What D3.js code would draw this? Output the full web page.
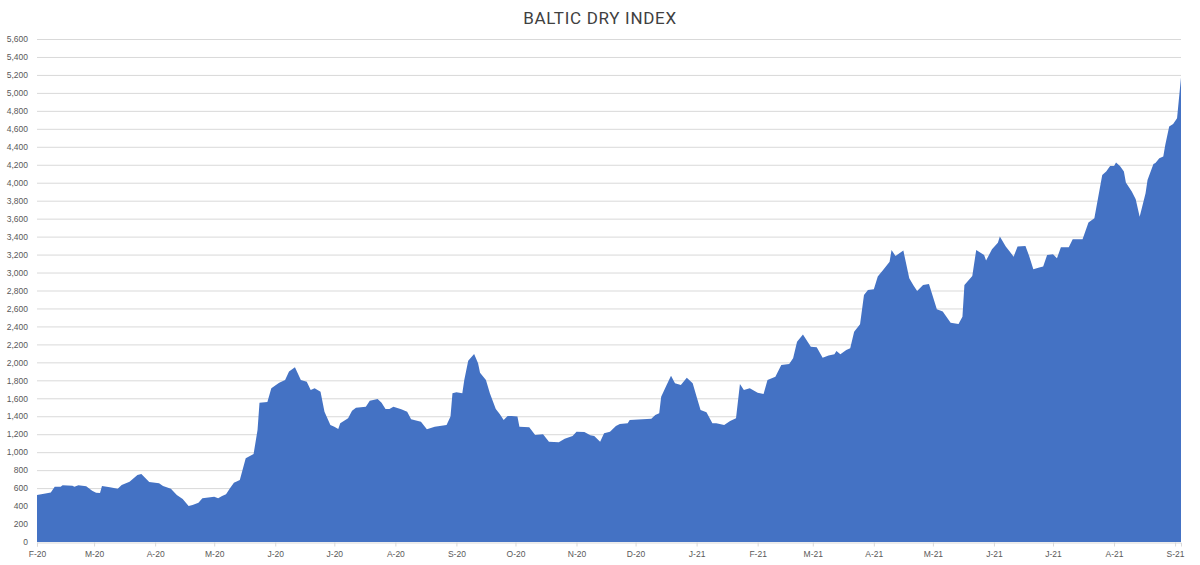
<!DOCTYPE html>
<html>
<head>
<meta charset="utf-8">
<script src="https://cdn.jsdelivr.net/npm/d3@7"></script>
<style>
  body { margin: 0; background: #fff; }
  svg { display: block; font-family: Roboto, "DejaVu Sans", sans-serif; }
</style>
</head>
<body>
<div id="chart"></div>
<script>
// BDI readings (date, index)
const dates = [
  "2020-02-01","2020-02-06","2020-02-08","2020-02-10","2020-02-13","2020-02-14","2020-02-19","2020-02-20",
  "2020-02-22","2020-02-26","2020-02-29","2020-03-02","2020-03-04","2020-03-05","2020-03-09","2020-03-13",
  "2020-03-15","2020-03-19","2020-03-23","2020-03-25","2020-03-29","2020-04-03","2020-04-05","2020-04-09",
  "2020-04-12","2020-04-15","2020-04-18","2020-04-20","2020-04-23","2020-04-25","2020-05-01","2020-05-03",
  "2020-05-05","2020-05-07","2020-05-09","2020-05-11","2020-05-14","2020-05-17","2020-05-21","2020-05-23",
  "2020-05-24","2020-05-28","2020-05-30","2020-06-03","2020-06-06","2020-06-08","2020-06-11","2020-06-14",
  "2020-06-17","2020-06-19","2020-06-21","2020-06-24","2020-06-26","2020-06-29","2020-07-01","2020-07-03",
  "2020-07-04","2020-07-08","2020-07-10","2020-07-12","2020-07-17","2020-07-19","2020-07-23","2020-07-25",
  "2020-07-27","2020-07-29","2020-07-31","2020-08-04","2020-08-07","2020-08-09","2020-08-14","2020-08-17",
  "2020-08-21","2020-08-27","2020-08-29","2020-08-30","2020-09-01","2020-09-04","2020-09-05","2020-09-07",
  "2020-09-10","2020-09-12","2020-09-13","2020-09-16","2020-09-18","2020-09-21","2020-09-23","2020-09-25",
  "2020-09-27","2020-09-29","2020-10-02","2020-10-03","2020-10-08","2020-10-11","2020-10-15","2020-10-18",
  "2020-10-23","2020-10-26","2020-10-30","2020-11-01","2020-11-05","2020-11-08","2020-11-10","2020-11-13",
  "2020-11-15","2020-11-18","2020-11-21","2020-11-23","2020-11-27","2020-11-28","2020-12-09","2020-12-11",
  "2020-12-13","2020-12-14","2020-12-17","2020-12-19","2020-12-21","2020-12-24","2020-12-27","2020-12-30",
  "2021-01-01","2021-01-03","2021-01-06","2021-01-09","2021-01-11","2021-01-15","2021-01-18","2021-01-21",
  "2021-01-23","2021-01-25","2021-01-28","2021-02-01","2021-02-04","2021-02-06","2021-02-10","2021-02-13",
  "2021-02-17","2021-02-19","2021-02-21","2021-02-24","2021-02-28","2021-03-03","2021-03-06","2021-03-09",
  "2021-03-12","2021-03-13","2021-03-15","2021-03-18","2021-03-20","2021-03-22","2021-03-25","2021-03-27",
  "2021-03-29","2021-04-01","2021-04-03","2021-04-06","2021-04-09","2021-04-10","2021-04-12","2021-04-16",
  "2021-04-19","2021-04-21","2021-04-23","2021-04-26","2021-04-29","2021-05-03","2021-05-06","2021-05-10",
  "2021-05-14","2021-05-16","2021-05-17","2021-05-21","2021-05-23","2021-05-27","2021-05-28","2021-05-31",
  "2021-06-03","2021-06-04","2021-06-07","2021-06-09","2021-06-11","2021-06-13","2021-06-17","2021-06-19",
  "2021-06-21","2021-06-24","2021-06-26","2021-06-28","2021-07-01","2021-07-03","2021-07-05","2021-07-09",
  "2021-07-11","2021-07-16","2021-07-19","2021-07-22","2021-07-26","2021-07-28","2021-07-30","2021-08-01",
  "2021-08-02","2021-08-04","2021-08-06","2021-08-07","2021-08-10","2021-08-12","2021-08-14","2021-08-17",
  "2021-08-18","2021-08-21","2021-08-22","2021-08-24","2021-08-26","2021-08-27","2021-08-29","2021-08-31",
  "2021-09-02","2021-09-04"
];
const values = [
  523,542,550,616,616,631,626,616,
  631,620,571,549,545,624,609,594,
  635,672,746,757,668,653,624,594,
  523,479,401,412,438,486,505,486,
  512,531,598,660,690,932,980,1247,
  1551,1559,1711,1774,1804,1897,1945,1804,
  1785,1693,1711,1674,1451,1303,1284,1258,
  1321,1377,1462,1496,1507,1573,1592,1551,
  1481,1481,1507,1477,1451,1366,1340,1255,
  1284,1303,1396,1656,1667,1656,1804,2019,
  2094,1990,1885,1804,1656,1481,1425,1359,
  1403,1403,1396,1284,1277,1192,1199,1117,
  1110,1150,1180,1228,1225,1188,1180,1117,
  1210,1228,1292,1314,1321,1359,1373,1414,
  1433,1618,1759,1852,1767,1748,1830,1767,
  1618,1470,1444,1321,1321,1303,1347,1377,
  1759,1693,1711,1663,1648,1804,1841,1971,
  1982,2045,2230,2310,2175,2168,2052,2075,
  2090,2127,2090,2138,2157,2342,2424,2751,
  2806,2814,2955,3036,3121,3252,3185,3244,
  2937,2862,2795,2862,2873,2591,2565,2442,
  2428,2509,2862,2962,3252,3196,3133,3259,
  3333,3400,3289,3233,3177,3289,3296,3177,
  3036,3055,3066,3196,3204,3159,3281,3281,
  3370,3370,3556,3605,4087,4124,4187,4187,
  4224,4187,4124,4001,3901,3816,3622,3883,
  4031,4209,4220,4273,4291,4421,4625,4655,
  4718,5170
];
const yTicks = d3.range(0, 5601, 200);
const monthLetters = ["J","F","M","A","M","J","J","A","S","O","N","D"];
const title = "BALTIC DRY INDEX";

const parse = d3.timeParse("%Y-%m-%d");
const data = dates.map((d, i) => ({ date: parse(d), value: values[i] }));

const W = 1200, H = 565;
const margin = { top: 39, right: 19, bottom: 23, left: 37 };

const svg = d3.select("#chart").append("svg")
  .attr("width", W).attr("height", H);

const x = d3.scaleTime()
  .domain(d3.extent(data, d => d.date))
  .range([margin.left, W - margin.right]);

const y = d3.scaleLinear()
  .domain([0, 5600])
  .range([H - margin.bottom, margin.top]);

// gridlines
svg.append("g")
  .selectAll("line")
  .data(yTicks.filter(d => d > 0))
  .enter().append("line")
  .attr("x1", margin.left).attr("x2", W - margin.right)
  .attr("y1", d => y(d) + 0.5).attr("y2", d => y(d) + 0.5)
  .attr("stroke", "#d9d9d9").attr("stroke-width", 1);

// area
const area = d3.area()
  .x(d => x(d.date))
  .y0(y(0))
  .y1(d => y(d.value));

svg.append("path")
  .datum(data)
  .attr("d", area)
  .attr("fill", "#4472C4");

// y axis labels
const yAxis = svg.append("g")
  .attr("transform", "translate(" + margin.left + ",0)")
  .call(d3.axisLeft(y).tickValues(yTicks).tickSize(0).tickPadding(9)
    .tickFormat(d3.format(",")));
yAxis.select(".domain").remove();
yAxis.selectAll("text")
  .attr("fill", "#595959").style("font-size", "8.5px");

// x axis
const xAxis = svg.append("g")
  .attr("transform", "translate(0," + (y(0) + 0.5) + ")")
  .call(d3.axisBottom(x).ticks(d3.timeMonth.every(1)).tickSize(4).tickPadding(4)
    .tickFormat(d => monthLetters[d.getMonth()] + "-" + d3.timeFormat("%y")(d)));
xAxis.select(".domain").attr("stroke", "#d9d9d9");
xAxis.selectAll(".tick line").attr("stroke", "#d9d9d9");
xAxis.selectAll("text")
  .attr("fill", "#595959").style("font-size", "8.5px");

// title
svg.append("text")
  .attr("x", W / 2).attr("y", 24)
  .attr("text-anchor", "middle")
  .attr("fill", "#404040")
  .style("font-size", "17px")
  .style("letter-spacing", "0.7px")
  .text(title);
</script>
</body>
</html>
